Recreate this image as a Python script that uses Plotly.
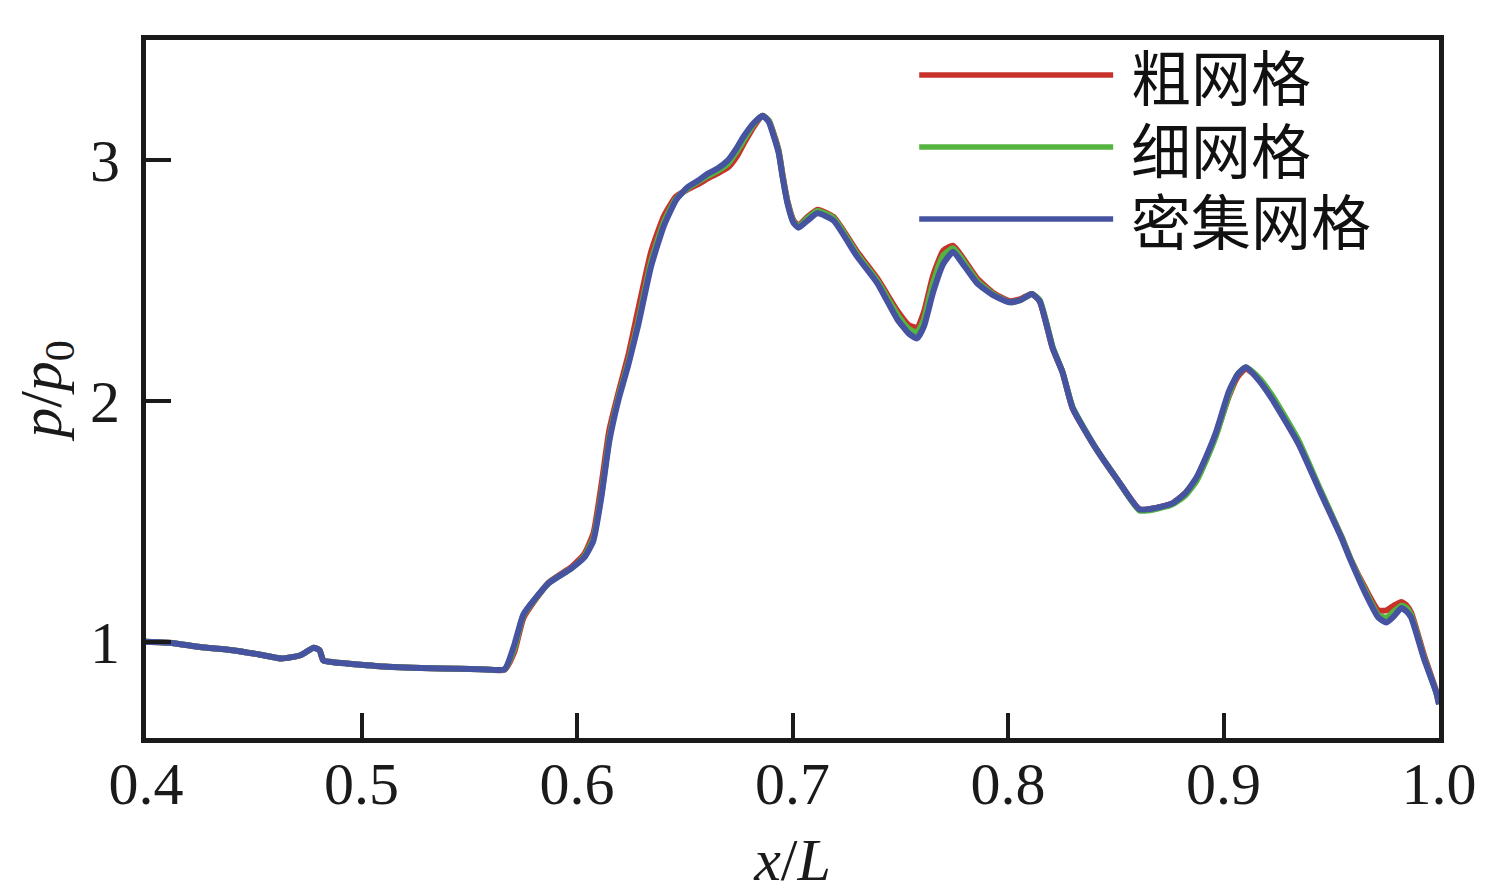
import plotly.graph_objects as go

x_L = [0.400, 0.412, 0.425, 0.440, 0.452, 0.463, 0.472, 0.4778, 0.4805, 0.4823,
       0.487, 0.493, 0.5105, 0.537, 0.555, 0.5664, 0.5710, 0.5752, 0.5868, 0.5974,
       0.6034, 0.6076, 0.6113, 0.6150, 0.6191, 0.6238, 0.6284, 0.6344, 0.6404, 0.6460,
       0.6515, 0.6560, 0.6607, 0.6650, 0.6700, 0.6740, 0.6774, 0.6820, 0.6862, 0.6890,
       0.6913, 0.6936, 0.6954, 0.6977, 0.7005, 0.7028, 0.7070, 0.7116, 0.7190, 0.7300,
       0.7393, 0.7486, 0.7540, 0.7578, 0.7610, 0.7652, 0.7700, 0.7745, 0.7790, 0.7856,
       0.7930, 0.8008, 0.8060, 0.8110, 0.8147, 0.8207, 0.8253, 0.8300, 0.8410, 0.8510,
       0.8610, 0.8680, 0.8762, 0.8820, 0.8873, 0.8920, 0.8965, 0.9025, 0.9065, 0.9104,
       0.9160, 0.9224, 0.9349, 0.9450, 0.9548, 0.9589, 0.9659, 0.9719, 0.9756, 0.9790,
       0.9825, 0.9850, 0.9871, 0.9930, 0.9987, 1.000]

p_coarse = [1.000, 0.995, 0.978, 0.965, 0.948, 0.930, 0.945, 0.975, 0.965, 0.922,
            0.915, 0.910, 0.897, 0.889, 0.886, 0.884, 0.960, 1.100, 1.245, 1.310,
            1.365, 1.450, 1.650, 1.880, 2.030, 2.190, 2.380, 2.620, 2.770, 2.850,
            2.880, 2.900, 2.925, 2.945, 2.970, 3.015, 3.070, 3.140, 3.185, 3.165,
            3.110, 3.040, 2.940, 2.830, 2.750, 2.730, 2.765, 2.795, 2.765, 2.620,
            2.510, 2.375, 2.315, 2.305, 2.370, 2.520, 2.625, 2.645, 2.595, 2.510,
            2.450, 2.415, 2.425, 2.445, 2.415, 2.220, 2.120, 1.970, 1.800, 1.670,
            1.550, 1.555, 1.575, 1.615, 1.675, 1.765, 1.860, 2.020, 2.100, 2.135,
            2.095, 2.015, 1.825, 1.625, 1.435, 1.345, 1.220, 1.130, 1.130, 1.150,
            1.165, 1.150, 1.120, 0.945, 0.795, 0.745]

p_fine = [1.000, 0.995, 0.978, 0.965, 0.948, 0.930, 0.945, 0.975, 0.965, 0.922,
          0.915, 0.910, 0.897, 0.889, 0.886, 0.885, 0.975, 1.110, 1.243, 1.305,
          1.355, 1.430, 1.610, 1.845, 2.010, 2.160, 2.330, 2.580, 2.745, 2.840,
          2.885, 2.910, 2.935, 2.955, 2.985, 3.035, 3.085, 3.150, 3.185, 3.165,
          3.105, 3.035, 2.935, 2.825, 2.745, 2.725, 2.760, 2.790, 2.760, 2.610,
          2.500, 2.360, 2.300, 2.285, 2.340, 2.490, 2.605, 2.635, 2.585, 2.500,
          2.445, 2.410, 2.420, 2.445, 2.420, 2.225, 2.120, 1.975, 1.800, 1.670,
          1.545, 1.550, 1.570, 1.605, 1.665, 1.755, 1.855, 2.025, 2.110, 2.140,
          2.100, 2.025, 1.835, 1.630, 1.435, 1.345, 1.210, 1.110, 1.100, 1.125,
          1.150, 1.140, 1.110, 0.935, 0.790, 0.740]

p_dense = [1.000, 0.995, 0.978, 0.965, 0.948, 0.930, 0.945, 0.975, 0.965, 0.922,
           0.915, 0.910, 0.897, 0.889, 0.886, 0.886, 0.990, 1.115, 1.243, 1.305,
           1.350, 1.420, 1.600, 1.833, 2.000, 2.150, 2.315, 2.560, 2.730, 2.835,
           2.890, 2.915, 2.945, 2.965, 3.000, 3.050, 3.100, 3.155, 3.185, 3.160,
           3.100, 3.030, 2.930, 2.820, 2.740, 2.720, 2.750, 2.780, 2.750, 2.600,
           2.490, 2.340, 2.280, 2.260, 2.310, 2.450, 2.570, 2.620, 2.570, 2.490,
           2.440, 2.410, 2.420, 2.445, 2.415, 2.220, 2.120, 1.970, 1.800, 1.670,
           1.550, 1.555, 1.575, 1.615, 1.680, 1.770, 1.870, 2.040, 2.110, 2.140,
           2.090, 2.010, 1.820, 1.620, 1.430, 1.340, 1.200, 1.100, 1.080, 1.105,
           1.140, 1.125, 1.100, 0.930, 0.790, 0.740]

series_names = ["粗网格", "细网格", "密集网格"]
series_colors = ["#c8322b", "#55b340", "#4553a1"]
series_values = [p_coarse, p_fine, p_dense]

x_ticks = [0.4, 0.5, 0.6, 0.7, 0.8, 0.9, 1.0]
x_ticktext = ["0.4", "0.5", "0.6", "0.7", "0.8", "0.9", "1.0"]
y_ticks = [1, 2, 3]
y_ticktext = ["1", "2", "3"]

AX = "#1a1a1a"
SERIF = "Liberation Serif, Times New Roman, serif"
CJK = "Noto Sans CJK SC, Noto Sans, sans-serif"

fig = go.Figure()
for name, color, vals in zip(series_names, series_colors, series_values):
    fig.add_trace(go.Scatter(x=x_L, y=vals, mode="lines", name=name,
                             line=dict(color=color, width=6, shape="spline", smoothing=0.5),
                             showlegend=False))

# manual legend (long line samples as in the reference)
leg_y = [0.950, 0.8467, 0.7436]
for name, color, yy in zip(series_names, series_colors, leg_y):
    fig.add_shape(type="line", xref="paper", yref="paper", x0=0.598, x1=0.748, y0=yy, y1=yy,
                  line=dict(color=color, width=5.5))
    fig.add_annotation(xref="paper", yref="paper", x=0.760, y=yy, xanchor="left", yanchor="middle",
                       text=name, showarrow=False, font=dict(family=CJK, size=60, color="#111111"))

fig.update_layout(
    width=1483, height=885,
    margin=dict(l=138, r=52, t=32, b=155),
    paper_bgcolor="white", plot_bgcolor="white",
    font=dict(family=SERIF, size=60, color=AX),
)
fig.update_xaxes(range=[0.4, 1.0], tickvals=x_ticks, ticktext=x_ticktext,
                 showline=True, mirror=True, linecolor=AX, linewidth=5,
                 ticks="inside", ticklen=25, tickwidth=4, tickcolor=AX,
                 showgrid=False, zeroline=False, automargin=False,
                 tickfont=dict(family=SERIF, size=60, color=AX), ticklabelstandoff=-11,
                 title=dict(text="<i>x</i>/<i>L</i>", standoff=23,
                            font=dict(family=SERIF, size=60, color=AX)))
fig.update_yaxes(range=[0.6, 3.5], tickvals=y_ticks, ticktext=y_ticktext,
                 showline=True, mirror=True, linecolor=AX, linewidth=5,
                 ticks="inside", ticklen=25, tickwidth=4, tickcolor=AX,
                 showgrid=False, zeroline=False, automargin=False,
                 tickfont=dict(family=SERIF, size=60, color=AX), ticklabelstandoff=9,
                 title=dict(text="<i>p</i>/<i>p</i><sub>0</sub>", standoff=27,
                            font=dict(family=SERIF, size=60, color=AX)))

fig.write_html("out.html")
